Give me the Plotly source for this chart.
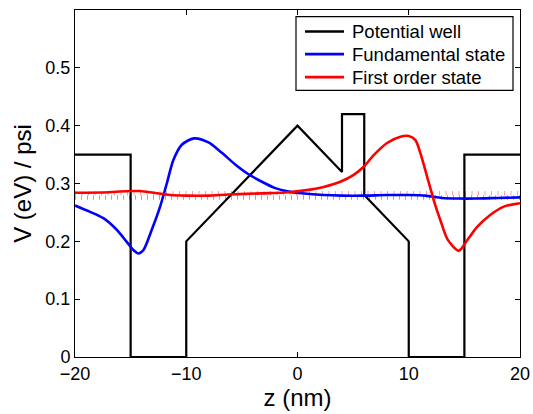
import plotly.graph_objects as go

# Potential well profile
well_z = [-20, -15, -15, -10, -10, 0, 4, 4, 6, 6, 10, 10, 15, 15, 20]
well_v = [0.35, 0.35, 0, 0, 0.2, 0.4, 0.32, 0.42, 0.42, 0.28, 0.2, 0, 0, 0.35, 0.35]

# Fundamental state (offset by its energy)
fund_z = [-20, -18.65, -17.45, -16.25, -15.35, -14.8, -14.3, -13.85, -13.1, -12.35,
          -11.75, -11.15, -10.4, -9.3, -8.0, -6.8, -5.6, -4.4, -3.2, -2.0, -0.8,
          0.4, 2.35, 4, 6, 8, 10, 11.5, 13, 14.5, 16, 18, 20]
fund_v = [0.262, 0.251, 0.240, 0.220, 0.199, 0.186, 0.179, 0.185, 0.220, 0.260,
          0.300, 0.341, 0.367, 0.378, 0.371, 0.353, 0.333, 0.316, 0.303, 0.292, 0.286,
          0.283, 0.280, 0.279, 0.279, 0.280, 0.280, 0.279, 0.275, 0.274, 0.274, 0.275, 0.276]

# First order state (offset by its energy)
first_z = [-20, -17, -15.05, -14.15, -12.95, -11.45, -10, -8, -6.2, -3.2, -0.8,
           1.0, 2.35, 3.85, 5.05, 5.95, 6.85, 8.05, 9.25, 10.0, 10.6, 11.05,
           11.65, 12.25, 12.85, 13.5, 14.5, 15.25, 16.15, 17.35, 18.55, 20]
first_v = [0.284, 0.285, 0.287, 0.287, 0.284, 0.280, 0.279, 0.279, 0.281, 0.283, 0.285,
           0.289, 0.294, 0.303, 0.315, 0.329, 0.349, 0.370, 0.381, 0.382, 0.375, 0.352,
           0.312, 0.271, 0.236, 0.203, 0.184, 0.202, 0.225, 0.246, 0.260, 0.266]

# Energy levels
level_z = [-20, 20]
fund_energy = [0.2758, 0.2758]
first_energy = [0.2832, 0.2832]

legend_names = ["Potential well", "Fundamental state", "First order state"]
legend_colors = ["#000000", "#0000ff", "#ff0000"]

W, H = 533, 414
L, R, T, B = 75, 520, 10.3, 356.7

def px_x(p):
    return (p - L) / (R - L)

def px_y(p):
    return (B - p) / (B - T)

fig = go.Figure()

fig.add_trace(go.Scatter(x=level_z, y=fund_energy, mode="lines", showlegend=False,
                         line=dict(color="rgba(60,60,255,0.5)", width=4.5, dash="1px,5px")))
fig.add_trace(go.Scatter(x=level_z, y=first_energy, mode="lines", showlegend=False,
                         line=dict(color="rgba(255,60,60,0.5)", width=4.5, dash="1px,5.5px")))

fig.add_trace(go.Scatter(x=well_z, y=well_v, mode="lines", name=legend_names[0],
                         line=dict(color=legend_colors[0], width=2.2)))
fig.add_trace(go.Scatter(x=fund_z, y=fund_v, mode="lines", name=legend_names[1],
                         line=dict(color=legend_colors[1], width=2.6, shape="spline", smoothing=0.8)))
fig.add_trace(go.Scatter(x=first_z, y=first_v, mode="lines", name=legend_names[2],
                         line=dict(color=legend_colors[2], width=2.6, shape="spline", smoothing=0.8)))

# Manual MATLAB-style legend
shapes = [dict(type="rect", xref="paper", yref="paper",
               x0=px_x(296), x1=px_x(513), y0=px_y(90.5), y1=px_y(17),
               line=dict(color="black", width=1.2), fillcolor="white", layer="above")]
annotations = []
rows = [31.7, 54.3, 77.3]
for name, col, ry in zip(legend_names, legend_colors, rows):
    shapes.append(dict(type="line", xref="paper", yref="paper",
                       x0=px_x(305), x1=px_x(344), y0=px_y(ry), y1=px_y(ry),
                       line=dict(color=col, width=2.6), layer="above"))
    annotations.append(dict(xref="paper", yref="paper", x=px_x(349.5), y=px_y(ry),
                            xanchor="left", yanchor="middle", showarrow=False, text=name,
                            font=dict(family="Liberation Sans, Arial", size=18.5, color="black")))

axis_common = dict(showline=True, linecolor="black", linewidth=1, mirror="ticks",
                   ticks="inside", ticklen=5, tickcolor="black", tickwidth=1,
                   showgrid=False, zeroline=False,
                   tickfont=dict(family="Liberation Sans, Arial", size=18, color="black"))

fig.update_layout(
    width=W, height=H,
    margin=dict(l=L, r=W - R, t=T, b=H - B, pad=0),
    paper_bgcolor="white", plot_bgcolor="white",
    showlegend=False,
    shapes=shapes, annotations=annotations,
    xaxis=dict(range=[-20, 20], tickvals=[-20, -10, 0, 10, 20],
               title=dict(text="z (nm)", standoff=2,
                          font=dict(family="Liberation Sans, Arial", size=24, color="black")),
               automargin=False, **axis_common),
    yaxis=dict(range=[0, 0.6], tickvals=[0, 0.1, 0.2, 0.3, 0.4, 0.5],
               ticktext=["0", "0.1", "0.2", "0.3", "0.4", "0.5"],
               title=dict(text="V (eV) / psi", standoff=6,
                          font=dict(family="Liberation Sans, Arial", size=24, color="black")),
               automargin=False, **axis_common),
)

fig.write_html("out.html", config={"displayModeBar": False},
               post_script="document.body.style.margin='0';document.body.style.padding='0';")
